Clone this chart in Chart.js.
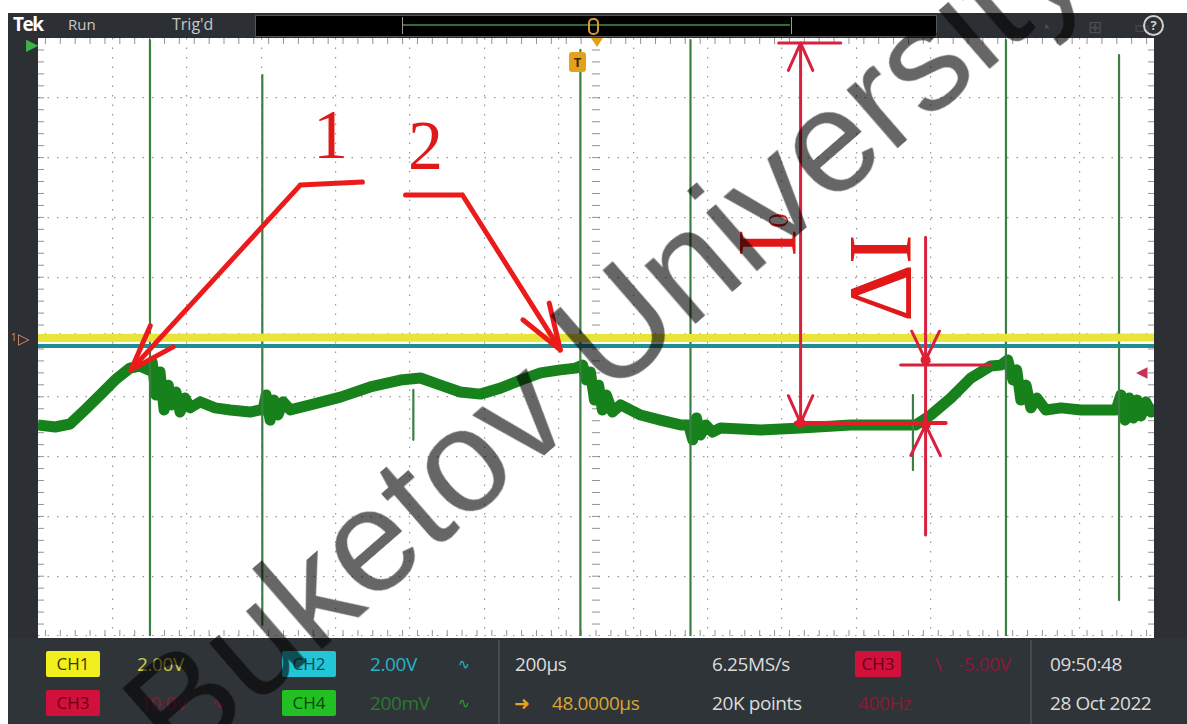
<!DOCTYPE html>
<html>
<head>
<meta charset="utf-8">
<script src="https://cdn.jsdelivr.net/npm/chart.js@4.4.0/dist/chart.umd.min.js"></script>
<style>
    body { margin: 0; background: #fff; width: 1187px; height: 724px; overflow: hidden; font-family: "Open Sans", "Noto Sans", sans-serif; }
    #scope { position: relative; width: 1187px; height: 724px; background: #fff; overflow: hidden; }
    .a { position: absolute; white-space: nowrap; }
    #plot { position: absolute; left: 38px; top: 38px; width: 1116px; height: 598px; background: #fff; }
    .frame { position: absolute; background: #2c3035; }
    .st { position: absolute; font-size: 19px; line-height: 26px; color: #dcdcdc; letter-spacing: -0.4px; white-space: nowrap; }
    .box { position: absolute; width: 54px; height: 26px; line-height: 26px; text-align: center; font-size: 17px; border-radius: 2px; }
    #wm { position: absolute; left: 603px; top: 338px; transform: translate(-50%, -50%) rotate(-41deg);
          font: 146px "Liberation Sans", Arial, sans-serif; line-height: 1; color: rgba(0, 0, 0, 0.6);
          white-space: nowrap; pointer-events: none; z-index: 20; }
</style>
</head>
<body>
<div id="scope">
    <!-- frame round the graticule -->
    <div class="frame" style="left:8px; top:13px; width:1179px; height:25px;"></div>
    <div class="frame" style="left:8px; top:38px; width:30px; height:602px;"></div>
    <div class="frame" style="left:1154px; top:38px; width:33px; height:602px;"></div>
    <div class="frame" style="left:8px; top:638px; width:1179px; height:86px; background:#2f3439;"></div>

    <!-- top bar -->
    <div class="a" style="left:13px; top:11px; font-size:19px; font-weight:bold; color:#fff; letter-spacing:-1.5px;">Tek</div>
    <div class="a" style="left:68px; top:14px; font-size:15px; color:#c8c8c8;">Run</div>
    <div class="a" style="left:172px; top:13px; font-size:16px; color:#c8c8c8;">Trig'd</div>
    <div class="a" style="left:255px; top:15px; width:680px; height:20px; background:#000; border:1px solid #555;"></div>
    <div class="a" style="left:402px; top:24px; width:388px; height:2px; background:#356b35;"></div>
    <div class="a" style="left:402px; top:17px; width:1px; height:17px; background:#9a9a9a;"></div>
    <div class="a" style="left:791px; top:17px; width:1px; height:17px; background:#9a9a9a;"></div>
    <div class="a" style="left:588px; top:18px; width:7px; height:13px; border:2px solid #d89a2c; border-radius:5px;"></div>
    <div class="a" style="left:1040px; top:15px; font-size:17px; color:#4a4e52;">◔</div>
    <div class="a" style="left:1088px; top:15px; font-size:17px; color:#4a4e52;">⊞</div>
    <div class="a" style="left:1134px; top:15px; font-size:17px; color:#4a4e52;">▭</div>
    <div class="a" style="left:1143px; top:15px; width:17px; height:17px; border:2px solid #d0d0d0; border-radius:50%;
         color:#d0d0d0; font-size:13px; line-height:17px; text-align:center; font-weight:bold;">?</div>

    <!-- graticule -->
    <div id="plot"><canvas id="scopeChart"></canvas></div>

    <!-- channel markers on the frame -->
    <div class="a" style="left:26px; top:33px; font-size:16px; color:#3cb44a;">▶</div>
    <div class="a" style="left:11px; top:330px; font-size:10px; color:#e0906a;">1</div>
    <div class="a" style="left:18px; top:328px; font-size:15px; color:#e0906a;">▷</div>
    <div class="a" style="left:1136px; top:361px; font-size:15px; color:#c8325a; z-index:5;">◀</div>
    <div class="a" style="left:569px; top:52px; width:17px; height:20px; background:#e3a21e; border-radius:3px; color:#3a2a00;
         font-size:13px; font-weight:bold; line-height:20px; text-align:center; z-index:5;">T</div>
    <div class="a" style="left:591px; top:38px; width:0; height:0; border-left:6px solid transparent; border-right:6px solid transparent;
         border-top:9px solid #e3a21e; z-index:5;"></div>

    <!-- status bar -->
    <div class="a" style="left:498px; top:640px; width:2px; height:84px; background:#464b51;"></div>
    <div class="a" style="left:1030px; top:640px; width:2px; height:84px; background:#464b51;"></div>

    <div class="box" style="left:46px; top:651px; background:#f2ef1e; color:#3b3b00;">CH1</div>
    <div class="st" style="left:137px; top:651px; color:#d2cf46;">2.00V</div>
    <div class="box" style="left:282px; top:651px; background:#23c6d6; color:#0c4950;">CH2</div>
    <div class="st" style="left:370px; top:651px; color:#2ab2c2;">2.00V</div>
    <div class="st" style="left:458px; top:651px; font-size:14px; color:#2ab2c2;">∿</div>
    <div class="box" style="left:46px; top:690px; background:#d2103c; color:#6a0018;">CH3</div>
    <div class="st" style="left:140px; top:690px; color:#8a1a36;">10.0V</div>
    <div class="st" style="left:212px; top:690px; font-size:14px; color:#8a1a36;">∿</div>
    <div class="box" style="left:282px; top:690px; background:#22c022; color:#0a4a0a;">CH4</div>
    <div class="st" style="left:370px; top:690px; color:#2a7a2c;">200mV</div>
    <div class="st" style="left:458px; top:690px; font-size:14px; color:#2a9a2c;">∿</div>

    <div class="st" style="left:515px; top:651px;">200µs</div>
    <div class="st" style="left:514px; top:690px; color:#e8a020;">➜</div>
    <div class="st" style="left:552px; top:690px; color:#d9a630;">48.0000µs</div>
    <div class="st" style="left:712px; top:651px;">6.25MS/s</div>
    <div class="st" style="left:712px; top:690px;">20K points</div>
    <div class="box" style="left:855px; top:651px; width:46px; background:#d2103c; color:#6a0018;">CH3</div>
    <div class="st" style="left:935px; top:651px; color:#9a1a3a;">\</div>
    <div class="st" style="left:958px; top:651px; color:#8a1a36;">-5.00V</div>
    <div class="st" style="left:858px; top:690px; color:#8a1a36;">400Hz</div>
    <div class="st" style="left:1050px; top:651px;">09:50:48</div>
    <div class="st" style="left:1050px; top:690px;">28 Oct 2022</div>

    <div id="wm">Buketov University</div>
</div>

<script>
// CH4 (green), time in µs, value in mV (200 mV/div)
const ch4Time = [-1500, -1454, -1414, -1374, -1333, -1293, -1253, -1226, -1204,
    -1193, -1183, -1172, -1161, -1150, -1140, -1129, -1118, -1105, -1091, -1064, -1024, -983, -930, -903,
    -895, -887, -876, -866, -855, -841, -822, -768, -687, -607, -526, -472, -418, -365, -311, -257, -203, -149, -96, -55,
    -36, -26, -15, -4, 7, 17, 28, 44, 66, 120, 173, 227, 249,
    260, 270, 281, 295, 313, 335, 443, 550, 685, 819, 860, 900, 954, 1008, 1061, 1088,
    1107, 1121, 1131, 1142, 1156, 1169, 1185, 1209, 1250, 1304, 1357, 1398,
    1411, 1422, 1433, 1444, 1454, 1465, 1478, 1492, 1500];
const ch4Value = [-294, -301, -291, -244, -194, -144, -104, -97, -110,
    -84, -194, -117, -244, -161, -227, -184, -251, -204, -237, -217, -237, -244, -251, -244,
    -244, -194, -278, -211, -261, -217, -244, -227, -201, -167, -144, -137, -161, -184, -191, -171, -144, -120, -110, -104,
    -94, -144, -117, -211, -161, -244, -194, -251, -227, -261, -278, -294, -294,
    -344, -271, -328, -294, -318, -304, -311, -304, -294, -294, -294, -261, -204, -137, -97, -94,
    -77, -144, -110, -211, -161, -237, -204, -244, -237, -244, -244, -244,
    -194, -278, -204, -271, -211, -264, -217, -251, -227];

// CH4 switching spikes
const spikeTime = [-1199, -897, -491, -42, 254, 852, 1102, 1406];
const spikeTop = [993, 876, -177, 960, 993, -194, 993, 943];
const spikeBottom = [-1000, -963, -344, -1000, -1000, -445, -1000, -880];

// CH1 (yellow) and CH2 (cyan) in V, 2 V/div
const ch1Time = [-1500, -800, 0, 800, 1500];
const ch1Value = [-0.03, -0.02, -0.03, -0.03, -0.02];
const ch2Time = [-1500, -1118, -149, 1500];
const ch2Value = [-0.3, -0.3, -0.3, -0.3];
const ch2OverTime = [-1118, -149];   // stretch where the green noise covers CH2
const ch2OverValue = [-0.3, -0.3];

// red hand drawn marks, in µs / mV
const mark1 = { label: [-714, 659], bar: [[-795, 508], [-628, 518]], tip: [-1250, -110] };
const mark2 = { label: [-458, 625], bar: [[-512, 475], [-359, 475]], tip: [-96, -43] };
const markI0 = { x: 550, top: 983, bottom: -288, cap: [491, 658], base: [537, 940], text: [537, 268] };
const markDI = { x: 886, top: 334, bottom: -662, upper: -77, lower: -294, tick: [819, 1061], text: [847, 50] };

function pairs(xs, ys) {
    return xs.map((t, i) => ({ x: t, y: ys[i] }));
}

function spikeSegments() {
    const out = [];
    spikeTime.forEach((t, i) => {
        out.push({ x: t, y: spikeTop[i] }, { x: t, y: spikeBottom[i] }, { x: t, y: null });
    });
    return out;
}

function head(ctx, tx, ty, fx, fy, len, spread) {
    const ang = Math.atan2(fy - ty, fx - tx);
    ctx.beginPath();
    ctx.moveTo(tx + len * Math.cos(ang - spread), ty + len * Math.sin(ang - spread));
    ctx.lineTo(tx, ty);
    ctx.lineTo(tx + len * Math.cos(ang + spread), ty + len * Math.sin(ang + spread));
    ctx.stroke();
}

const scopeMarks = {
    id: 'scopeMarks',
    beforeDatasetsDraw(chart) {
        // small ruler ticks on centre lines and edges
        const { ctx, chartArea: a, scales: { x, y } } = chart;
        const cx = x.getPixelForValue(0), cy = y.getPixelForValue(0);
        ctx.save();
        ctx.strokeStyle = 'rgba(120,120,120,0.8)';
        ctx.lineWidth = 1;
        ctx.beginPath();
        for (let t = -1480; t <= 1480; t += 40) {
            const p = x.getPixelForValue(t);
            ctx.moveTo(p, cy - 4); ctx.lineTo(p, cy + 4);
            ctx.moveTo(p, a.top); ctx.lineTo(p, a.top + 6);
            ctx.moveTo(p, a.bottom); ctx.lineTo(p, a.bottom - 6);
        }
        for (let v = -960; v <= 960; v += 40) {
            const p = y.getPixelForValue(v);
            ctx.moveTo(cx - 4, p); ctx.lineTo(cx + 4, p);
            ctx.moveTo(a.left, p); ctx.lineTo(a.left + 6, p);
            ctx.moveTo(a.right, p); ctx.lineTo(a.right - 6, p);
        }
        ctx.stroke();
        ctx.restore();
    },
    afterDatasetsDraw(chart) {
        const { ctx, scales: { x, y } } = chart;
        const X = v => x.getPixelForValue(v), Y = v => y.getPixelForValue(v);
        ctx.save();
        ctx.lineCap = 'round';
        ctx.lineJoin = 'round';

        // arrows 1 and 2
        ctx.strokeStyle = '#ec1b1b';
        ctx.lineWidth = 5;
        [mark1, mark2].forEach(m => {
            const s = m.bar[0], e = m.bar[1];
            const from = m === mark1 ? s : e;
            ctx.beginPath();
            ctx.moveTo(X(s[0]), Y(s[1]));
            ctx.lineTo(X(e[0]), Y(e[1]));
            ctx.moveTo(X(from[0]), Y(from[1]));
            ctx.lineTo(X(m.tip[0]), Y(m.tip[1]));
            ctx.stroke();
            head(ctx, X(m.tip[0]), Y(m.tip[1]), X(from[0]), Y(from[1]), 48, 0.33);
        });
        ctx.fillStyle = '#e01818';
        ctx.font = '70px "Liberation Serif", "DejaVu Serif", serif';
        ctx.textAlign = 'center';
        ctx.textBaseline = 'middle';
        ctx.fillText('1', X(mark1.label[0]), Y(mark1.label[1]));
        ctx.fillText('2', X(mark2.label[0]), Y(mark2.label[1]));

        // I0 dimension
        ctx.strokeStyle = '#d8213f';
        ctx.lineWidth = 3;
        ctx.beginPath();
        ctx.moveTo(X(markI0.x), Y(markI0.top)); ctx.lineTo(X(markI0.x), Y(markI0.bottom));
        ctx.moveTo(X(markI0.cap[0]), Y(markI0.top)); ctx.lineTo(X(markI0.cap[1]), Y(markI0.top));
        ctx.stroke();
        head(ctx, X(markI0.x), Y(markI0.top), X(markI0.x), Y(markI0.top) + 10, 30, 0.42);
        head(ctx, X(markI0.x), Y(markI0.bottom), X(markI0.x), Y(markI0.bottom) - 10, 30, 0.42);
        ctx.strokeStyle = '#e01e2e';
        ctx.lineWidth = 4;
        ctx.beginPath();
        ctx.moveTo(X(markI0.base[0]), Y(markI0.bottom)); ctx.lineTo(X(markI0.base[1]), Y(markI0.bottom));
        ctx.stroke();

        // delta I dimension
        ctx.strokeStyle = '#d8213f';
        ctx.lineWidth = 3;
        ctx.beginPath();
        ctx.moveTo(X(markDI.x), Y(markDI.top)); ctx.lineTo(X(markDI.x), Y(markDI.bottom));
        ctx.moveTo(X(markDI.tick[0]), Y(markDI.upper) + 5); ctx.lineTo(X(markDI.tick[1]), Y(markDI.upper) + 5);
        ctx.stroke();
        head(ctx, X(markDI.x), Y(markDI.upper), X(markDI.x), Y(markDI.upper) - 10, 32, 0.45);
        head(ctx, X(markDI.x), Y(markDI.lower), X(markDI.x), Y(markDI.lower) + 10, 34, 0.45);
        ctx.fillStyle = '#e01e2e';
        [[markI0.x, markI0.bottom], [markDI.x, markDI.lower], [markDI.x, markDI.upper]].forEach(p => {
            ctx.beginPath();
            ctx.arc(X(p[0]), Y(p[1]), 5, 0, Math.PI * 2);
            ctx.fill();
        });

        // rotated labels
        ctx.fillStyle = '#e01818';
        ctx.textAlign = 'left';
        ctx.textBaseline = 'alphabetic';
        ctx.save();
        ctx.translate(X(markI0.text[0]), Y(markI0.text[1]));
        ctx.rotate(-Math.PI / 2);
        ctx.font = '84px "Liberation Serif", "DejaVu Serif", serif';
        ctx.fillText('I', 0, 0);
        const w = ctx.measureText('I').width;
        ctx.font = '30px "Liberation Serif", "DejaVu Serif", serif';
        ctx.fillText('0', w + 1, -8);
        ctx.restore();
        ctx.save();
        ctx.translate(X(markDI.text[0]), Y(markDI.text[1]));
        ctx.rotate(-Math.PI / 2);
        ctx.font = '90px "Liberation Serif", "DejaVu Serif", serif';
        ctx.fillText('ΔI', 0, 0);
        ctx.restore();

        ctx.restore();
    }
};

const gridColor = c => (c.tick && Math.abs(c.tick.value) >= 1500) ? 'rgba(0,0,0,0)' : 'rgba(125,125,125,0.8)';

const ctx = document.getElementById('scopeChart').getContext('2d');
new Chart(ctx, {
    type: 'line',
    data: {
        datasets: [
            { label: 'CH1', data: pairs(ch1Time, ch1Value), yAxisID: 'yV', borderColor: '#e8e43a', borderWidth: 8 },
            { label: 'CH2', data: pairs(ch2Time, ch2Value), yAxisID: 'yV', borderColor: '#1f8e93', borderWidth: 4 },
            { label: 'CH2 covered', data: pairs(ch2OverTime, ch2OverValue), yAxisID: 'yV', borderColor: '#2e8a3e', borderWidth: 4 },
            { label: 'CH4 spikes', data: spikeSegments(), yAxisID: 'y', borderColor: '#3c7f44', borderWidth: 2.2, spanGaps: false },
            { label: 'CH4 outer', data: pairs(ch4Time, ch4Value), yAxisID: 'y', borderColor: '#17821c', borderWidth: 11 },
            { label: 'CH4', data: pairs(ch4Time, ch4Value), yAxisID: 'y', borderColor: '#22a424', borderWidth: 6 }
        ]
    },
    options: {
        animation: false,
        responsive: true,
        maintainAspectRatio: false,
        layout: { padding: 0 },
        elements: { line: { tension: 0, borderJoinStyle: 'round' }, point: { radius: 0 } },
        plugins: { legend: { display: false }, tooltip: { enabled: false } },
        scales: {
            x: {
                type: 'linear', min: -1500, max: 1500,
                ticks: { display: false, stepSize: 200 },
                grid: { color: gridColor, lineWidth: 1.2, drawTicks: false },
                border: { display: false, dash: [1.5, 8] }
            },
            y: {
                min: -1000, max: 1000,
                ticks: { display: false, stepSize: 200 },
                grid: { color: gridColor, lineWidth: 1.2, drawTicks: false },
                border: { display: false, dash: [1.5, 8] }
            },
            yV: { display: false, min: -10, max: 10 }
        }
    },
    plugins: [scopeMarks]
});
</script>
</body>
</html>
